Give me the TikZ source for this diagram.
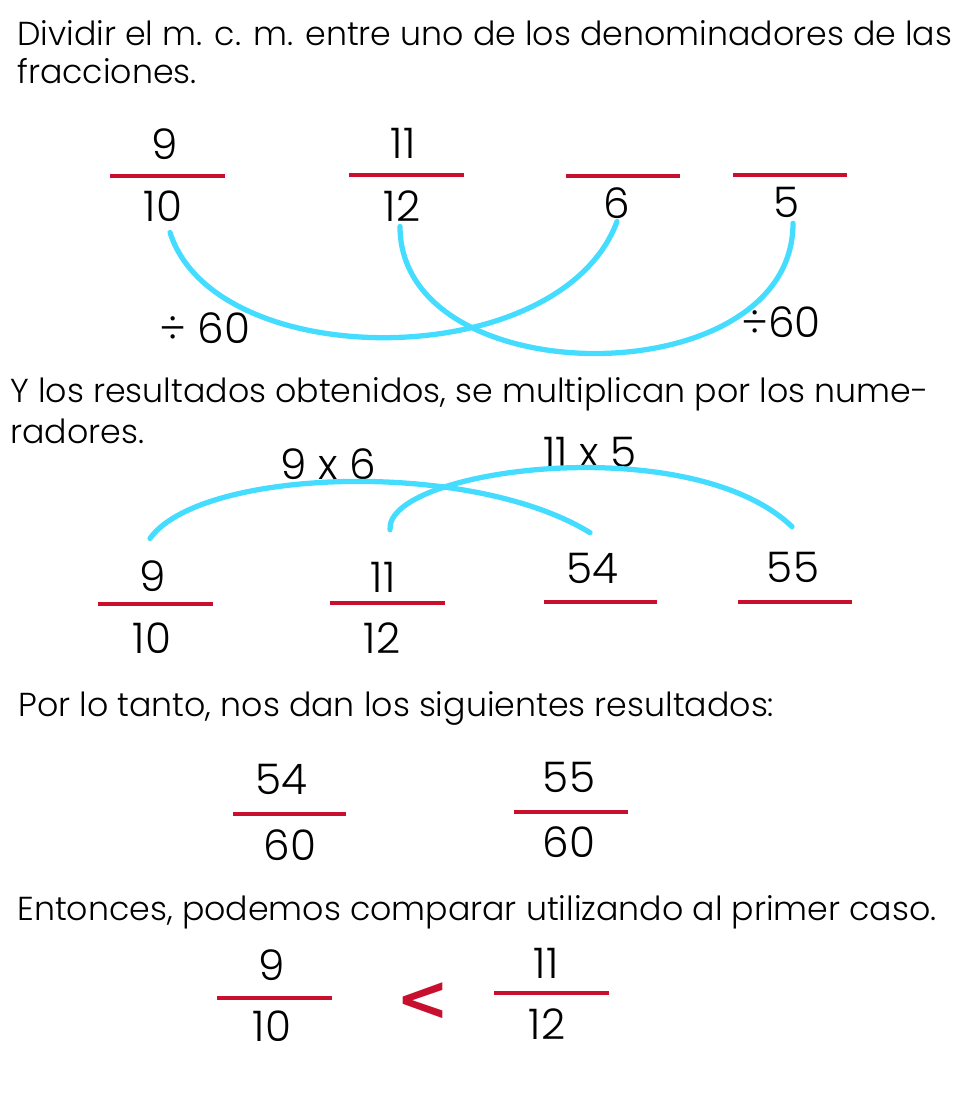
\documentclass[tikz,border=0pt]{standalone}
\usepackage{fontspec}
\setmainfont{Poppins}[UprightFont=* Light, BoldFont=* SemiBold]
\newfontfamily\symfont{DejaVu Sans}
\usetikzlibrary{positioning}
\definecolor{arccyan}{RGB}{69,221,255}
\definecolor{barred}{RGB}{200,16,46}

\tikzset{
  txt/.style={anchor=base west, inner sep=0pt, font=\fontsize{18.9}{22}\selectfont},
  num/.style={inner sep=1pt, font=\fontsize{24}{28}\selectfont},
  fracbar/.style={draw=barred, line width=2.2pt},
  link/.style={draw=arccyan, line width=3pt, line cap=round},
}

\begin{document}
\begin{tikzpicture}[x=0.02cm, y=-0.02cm]
  \useasboundingbox (0,0) rectangle (961,1108);

  % Step 1: divide the l.c.m.
  \node[txt] (head1) at (17,46) {Dividir el m. c. m. entre uno de los denominadores de las};
  \node[txt] (head1b) at (17,84) {fracciones.};

  \node[num] (n1) at (165,144) {9};
  \node[num] (d1) at (163,206) {10};
  \draw[fracbar] (110,176) -- (225,176);
  \node[num] (n2) at (403,143) {11};
  \node[num] (d2) at (402,206) {12};
  \draw[fracbar] (349,175) -- (464,175);
  \node[num] (d3) at (617,203) {6};
  \draw[fracbar] (566,176) -- (680,176);
  \node[num] (d4) at (786,202) {5};
  \draw[fracbar] (733,175) -- (847,175);

  \draw[link] ([shift={(7,9)}]d1.south) .. controls +(45,142) and +(-57,153) .. ([shift={(0,1)}]d3.south);
  \draw[link] ([shift={(-2,3)}]d2.south) .. controls +(0,170) and +(0,173) .. ([shift={(7,4)}]d4.south);
  \node[num] (q1) at (205,328) {÷ 60};
  \node[num] (q2) at (781,322) {÷60};

  % Step 2: multiply by the numerators
  \node[txt] (head2) at (10,402) {Y los resultados obtenidos, se multiplican por los nume-};
  \node[txt] (head2b) at (10,443) {radores.};

  \node[num] (p1) at (328,464) {9 x 6};
  \node[num] (p2) at (590,452) {11 x 5};

  \node[num] (m1) at (153,576) {9};
  \node[num] (e1) at (152,638) {10};
  \draw[fracbar] (98,604) -- (213,604);
  \node[num] (m2) at (383,577) {11};
  \node[num] (e2) at (382,638) {12};
  \draw[fracbar] (330,603) -- (445,603);
  \node[num] (m3) at (592,568) {54};
  \draw[fracbar] (544,602) -- (657,602);
  \node[num] (m4) at (793,567) {55};
  \draw[fracbar] (738,602) -- (852,602);

  \draw[link] ([shift={(-3,-20)}]m1.north) .. controls +(50,-70) and +(-120,-74) .. ([shift={(-2,-18)}]m3.north);
  \draw[link] ([shift={(7,-30)}]m2.north) .. controls +(-5,-61) and +(-102,-98) .. ([shift={(-1,-23)}]m4.north);

  % Step 3: results
  \node[txt] (head3) at (18,716) {Por lo tanto, nos dan los siguientes resultados:};
  \node[num] (r1) at (281,779) {54};
  \node[num] (s1) at (290,845) {60};
  \draw[fracbar] (233,814) -- (346,814);
  \node[num] (r2) at (569,777) {55};
  \node[num] (s2) at (569,842) {60};
  \draw[fracbar] (514,812) -- (628,812);

  % Step 4: comparison
  \node[txt] (head4) at (17,920) {Entonces, podemos comparar utilizando al primer caso.};
  \node[num] (t1) at (272,965) {9};
  \node[num] (u1) at (272,1026) {10};
  \draw[fracbar] (217,998) -- (332,998);
  \node[inner sep=0pt, text=barred, font=\symfont\bfseries\fontsize{36}{40}\selectfont] (lt) at (423,1002) {<};
  \node[num] (t2) at (546,963) {11};
  \node[num] (u2) at (547,1024) {12};
  \draw[fracbar] (494,993) -- (609,993);
\end{tikzpicture}
\end{document}
